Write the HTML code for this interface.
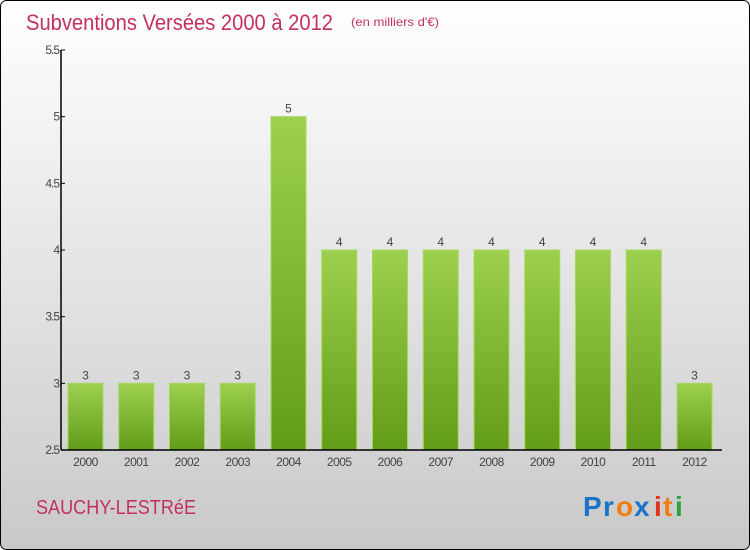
<!DOCTYPE html>
<html><head><meta charset="utf-8"><style>
html,body{margin:0;padding:0;width:750px;height:550px;overflow:hidden;background:#fff}
svg{display:block}
text{font-family:"Liberation Sans",sans-serif}
</style></head><body>
<svg width="750" height="550" viewBox="0 0 750 550">
<defs>
<linearGradient id="bg" x1="0" y1="0" x2="0" y2="1"><stop offset="0" stop-color="#ffffff"/><stop offset="1" stop-color="#c9c9c9"/></linearGradient>
<linearGradient id="bar" x1="0" y1="0" x2="0" y2="1"><stop offset="0" stop-color="#9dd04e"/><stop offset="1" stop-color="#629c18"/></linearGradient>
</defs>
<rect x="0.5" y="0.5" width="749" height="549" rx="6" fill="url(#bg)" stroke="#000"/>
<text x="26" y="30" font-size="22" fill="#c4305f" textLength="307" lengthAdjust="spacingAndGlyphs">Subventions Versées 2000 à 2012</text>
<text x="351" y="26" font-size="12" fill="#c4305f" textLength="88" lengthAdjust="spacingAndGlyphs">(en milliers d'€)</text>
<g id="plot"></g>
<text x="36" y="514" font-size="20" fill="#c4305f" textLength="160" lengthAdjust="spacingAndGlyphs">SAUCHY-LESTRéE</text>
<g font-size="28" font-weight="bold">
<text x="583" y="516" fill="#1a73c9">P</text><text x="603" y="516" fill="#1a73c9">r</text><text x="616" y="516" fill="#f07d12">o</text><text x="634" y="516" fill="#1a73c9">x</text><text x="654" y="516" fill="#e4331c">i</text><text x="663" y="516" fill="#f07d12">t</text><text x="675" y="516" fill="#2aa33a">i</text>
</g>
</svg>
<script>
const categories=["2000","2001","2002","2003","2004","2005","2006","2007","2008","2009","2010","2011","2012"];
const values=[3,3,3,3,5,4,4,4,4,4,4,4,3];
const yTicks=[2.5,3,3.5,4,4.5,5,5.5];
const yTickLabels=["2.5","3","3.5","4","4.5","5","5.5"];
(function(){
const NS="http://www.w3.org/2000/svg";
const g=document.getElementById('plot');
const yMin=2.5,yMax=5.5,pTop=50,pBot=450,x0=61,x1=722;
const y=v=>pBot-(v-yMin)/(yMax-yMin)*(pBot-pTop);
const step=50.75,first=85.5,bw=35;
const x=i=>first+i*step;
function el(t,a){const e=document.createElementNS(NS,t);for(const k in a)e.setAttribute(k,a[k]);g.appendChild(e);return e;}
values.forEach((v,i)=>{
 const r=el('rect',{x:x(i)-bw/2,y:y(v),width:bw,height:pBot-y(v),fill:'url(#bar)',stroke:'#a6d85e','stroke-width':1});
 
 
 const t=el('text',{x:x(i),y:y(v)-4,'font-size':12,fill:'#444','text-anchor':'middle'});
 t.textContent=v;
 
 
 const c=el('text',{x:x(i),y:pBot+16,'font-size':12,fill:'#444','text-anchor':'middle','letter-spacing':'-0.5'});
 c.textContent=categories[i];
 
 
});
yTicks.forEach((v,i)=>{
 const l=el('line',{x1:x0,x2:x0+4,y1:y(v),y2:y(v),stroke:'#000'});
 
 
 const t=el('text',{x:x0-2,y:y(v)+4,'font-size':12,fill:'#444','text-anchor':'end','letter-spacing':'-1'});
 t.textContent=yTickLabels[i];
 
 
});
const ya=el('line',{x1:x0,x2:x0,y1:pTop,y2:pBot,stroke:'#000','stroke-width':1.5});


const xa=el('line',{x1:x0,x2:x1,y1:pBot,y2:pBot,stroke:'#000','stroke-width':1.5});


})();
</script>
</body></html>
